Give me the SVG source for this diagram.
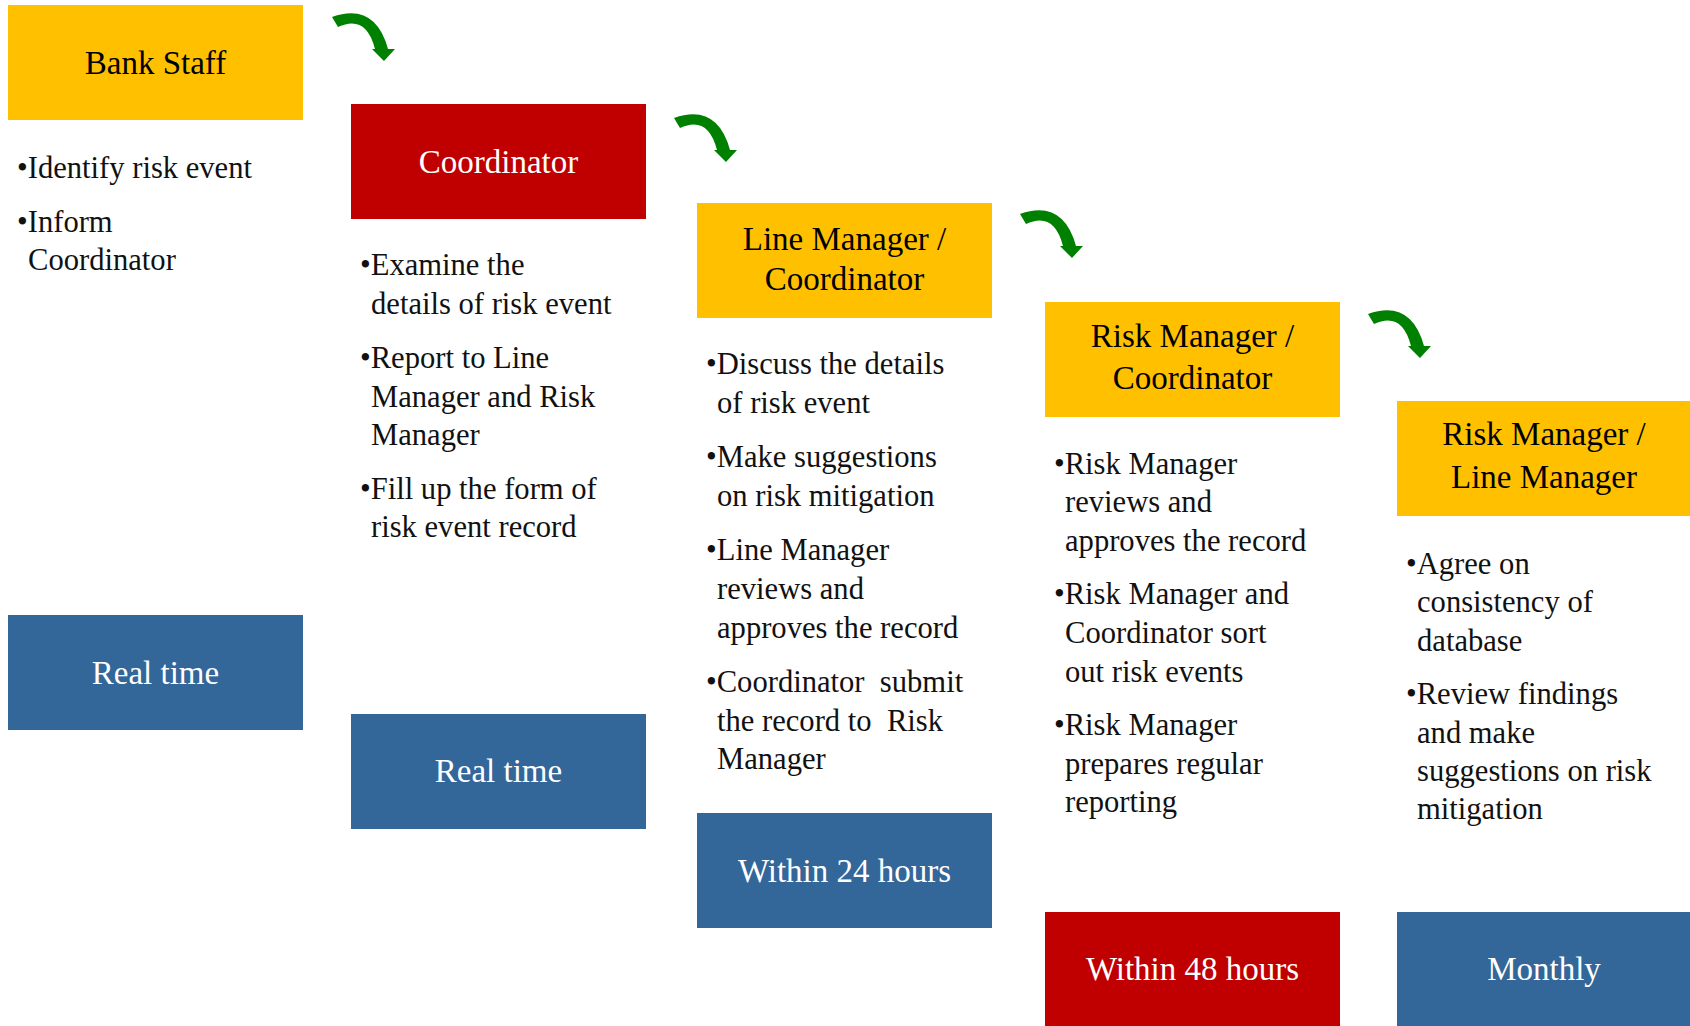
<svg xmlns="http://www.w3.org/2000/svg" xmlns:xlink="http://www.w3.org/1999/xlink" width="1690" height="1026" viewBox="0 0 1690 1026">
  <style>
    .yellow { fill: #FFC000; }
    .red { fill: #C00000; }
    .blue { fill: #336699; }
    .title { font-family: "Liberation Serif", "Times New Roman", serif; font-size: 33px; text-anchor: middle; }
    .dark { fill: #000000; }
    .light { fill: #FFFFFF; }
    .note { font-family: "Liberation Serif", "Times New Roman", serif; font-size: 30.6px; fill: #111111; }
    .arrow { fill: #008000; }
  </style>
  <defs>
    <!-- curved green step arrow -->
    <path id="step-arrow" class="arrow" d="M332,17 Q375,2 388,49 L395,49 L384,61 L372,49 L375,49 Q366,14 338,27 Z"/>
  </defs>

  <rect width="1690" height="1026" fill="#FFFFFF"/>

  <!-- connectors -->
  <g id="connectors">
    <use xlink:href="#step-arrow"/>
    <use xlink:href="#step-arrow" transform="translate(342,101)"/>
    <use xlink:href="#step-arrow" transform="translate(688,197)"/>
    <use xlink:href="#step-arrow" transform="translate(1036,297)"/>
  </g>

  <!-- stage 1 -->
  <g id="bank-staff">
    <rect class="yellow" x="8" y="5" width="295" height="115"/>
    <text class="title dark" x="155.5" y="74">Bank Staff</text>
  </g>
  <g id="bank-staff-tasks" class="note" transform="translate(0,2)">
    <text><tspan x="17" y="176">•Identify risk event</tspan></text>
    <text><tspan x="17" y="230">•Inform</tspan><tspan x="28" y="268">Coordinator</tspan></text>
  </g>
  <g id="bank-staff-time">
    <rect class="blue" x="8" y="615" width="295" height="115"/>
    <text class="title light" x="155.5" y="684">Real time</text>
  </g>

  <!-- stage 2 -->
  <g id="coordinator">
    <rect class="red" x="351" y="104" width="295" height="115"/>
    <text class="title light" x="498.5" y="173">Coordinator</text>
  </g>
  <g id="coordinator-tasks" class="note" transform="translate(0,2)">
    <text><tspan x="360" y="273">•Examine the</tspan><tspan x="371" y="312">details of risk event</tspan></text>
    <text><tspan x="360" y="366">•Report to Line</tspan><tspan x="371" y="405">Manager and Risk</tspan><tspan x="371" y="443">Manager</tspan></text>
    <text><tspan x="360" y="497">•Fill up the form of</tspan><tspan x="371" y="535">risk event record</tspan></text>
  </g>
  <g id="coordinator-time">
    <rect class="blue" x="351" y="714" width="295" height="115"/>
    <text class="title light" x="498.5" y="782">Real time</text>
  </g>

  <!-- stage 3 -->
  <g id="line-manager-coordinator">
    <rect class="yellow" x="697" y="203" width="295" height="115"/>
    <text class="title dark" x="844.5" y="250">Line Manager /</text>
    <text class="title dark" x="844.5" y="290">Coordinator</text>
  </g>
  <g id="line-manager-coordinator-tasks" class="note" transform="translate(0,2)">
    <text><tspan x="706" y="372">•Discuss the details</tspan><tspan x="717" y="411">of risk event</tspan></text>
    <text><tspan x="706" y="465">•Make suggestions</tspan><tspan x="717" y="504">on risk mitigation</tspan></text>
    <text><tspan x="706" y="558">•Line Manager</tspan><tspan x="717" y="597">reviews and</tspan><tspan x="717" y="636">approves the record</tspan></text>
    <text><tspan x="706" y="690">•Coordinator&#160; submit</tspan><tspan x="717" y="729">the record to&#160; Risk</tspan><tspan x="717" y="767">Manager</tspan></text>
  </g>
  <g id="line-manager-coordinator-time">
    <rect class="blue" x="697" y="813" width="295" height="115"/>
    <text class="title light" x="844.5" y="882">Within 24 hours</text>
  </g>

  <!-- stage 4 -->
  <g id="risk-manager-coordinator">
    <rect class="yellow" x="1045" y="302" width="295" height="115"/>
    <text class="title dark" x="1192.5" y="347">Risk Manager /</text>
    <text class="title dark" x="1192.5" y="389">Coordinator</text>
  </g>
  <g id="risk-manager-coordinator-tasks" class="note" transform="translate(0,2)">
    <text><tspan x="1054" y="472">•Risk Manager</tspan><tspan x="1065" y="510">reviews and</tspan><tspan x="1065" y="549">approves the record</tspan></text>
    <text><tspan x="1054" y="602">•Risk Manager and</tspan><tspan x="1065" y="641">Coordinator sort</tspan><tspan x="1065" y="680">out risk events</tspan></text>
    <text><tspan x="1054" y="733">•Risk Manager</tspan><tspan x="1065" y="772">prepares regular</tspan><tspan x="1065" y="810">reporting</tspan></text>
  </g>
  <g id="risk-manager-coordinator-time">
    <rect class="red" x="1045" y="912" width="295" height="115"/>
    <text class="title light" x="1192.5" y="980">Within 48 hours</text>
  </g>

  <!-- stage 5 -->
  <g id="risk-manager-line-manager">
    <rect class="yellow" x="1397" y="401" width="295" height="115"/>
    <text class="title dark" x="1544" y="445">Risk Manager /</text>
    <text class="title dark" x="1544" y="488">Line Manager</text>
  </g>
  <g id="risk-manager-line-manager-tasks" class="note" transform="translate(0,2)">
    <text><tspan x="1406" y="572">•Agree on</tspan><tspan x="1417" y="610">consistency of</tspan><tspan x="1417" y="649">database</tspan></text>
    <text><tspan x="1406" y="702">•Review findings</tspan><tspan x="1417" y="741">and make</tspan><tspan x="1417" y="779">suggestions on risk</tspan><tspan x="1417" y="817">mitigation</tspan></text>
  </g>
  <g id="risk-manager-line-manager-time">
    <rect class="blue" x="1397" y="912" width="295" height="115"/>
    <text class="title light" x="1544" y="980">Monthly</text>
  </g>
</svg>
